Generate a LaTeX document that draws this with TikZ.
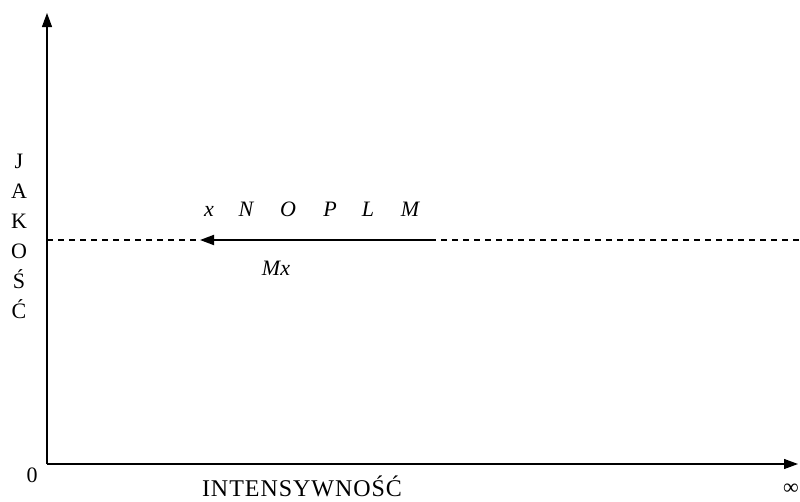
\documentclass[tikz,border=0pt]{standalone}
\usepackage{fontspec}
\setmainfont{Liberation Serif}
\usetikzlibrary{arrows.meta, positioning, calc}

\begin{document}
\begin{tikzpicture}[x=1pt, y=-1pt, >={Triangle[length=14pt, width=10pt]},
        lbl/.style={font=\fontsize{22}{26}\selectfont, inner sep=0pt, anchor=base},
        ilbl/.style={font=\fontsize{22}{26}\selectfont\itshape, inner sep=0pt, anchor=base}]
        \useasboundingbox (0,0) rectangle (800,501);
        % axes
        \coordinate (O) at (47,464);
        \coordinate (ytop) at (47,13);
        \coordinate (xtip) at (798,464);
        \draw [->, line width=1.1pt] (O) -- (ytop);
        \draw [->, line width=1.1pt] (O) -- (xtip);
        \node [lbl] (zero) at (32,482) {0};
        \node [lbl] (inf) at (791,494) {∞};
        \node [lbl, font=\fontsize{24}{26}\selectfont\addfontfeature{LetterSpace=4}] (intens) at (302,496) {INTENSYWNOŚĆ};
        \foreach \ch [count=\i from 0] in {J,A,K,O,Ś,Ć}
            \node [lbl] (q\i) at (19,168+30*\i) {\ch};
        % level line
        \coordinate (dashL) at (47,240);
        \coordinate (dashR) at (800,240);
        \coordinate (arrS) at (430,240);
        \coordinate (arrE) at (200,240);
        \draw [line width=1.3pt, dash pattern=on 6pt off 5pt] (dashL) -- (arrE);
        \draw [line width=1.3pt, dash pattern=on 6pt off 5pt] (arrS) -- (dashR);
        \draw [->, line width=1.8pt] (arrS) -- (arrE);
        \foreach \ch/\xx [count=\i] in {x/209, N/246, O/288, P/330, L/368, M/410}
            \node [ilbl] (t\i) at (\xx,216) {\ch};
        \node [ilbl] (mx) at (276,275) {Mx};
    \end{tikzpicture}
\end{document}
